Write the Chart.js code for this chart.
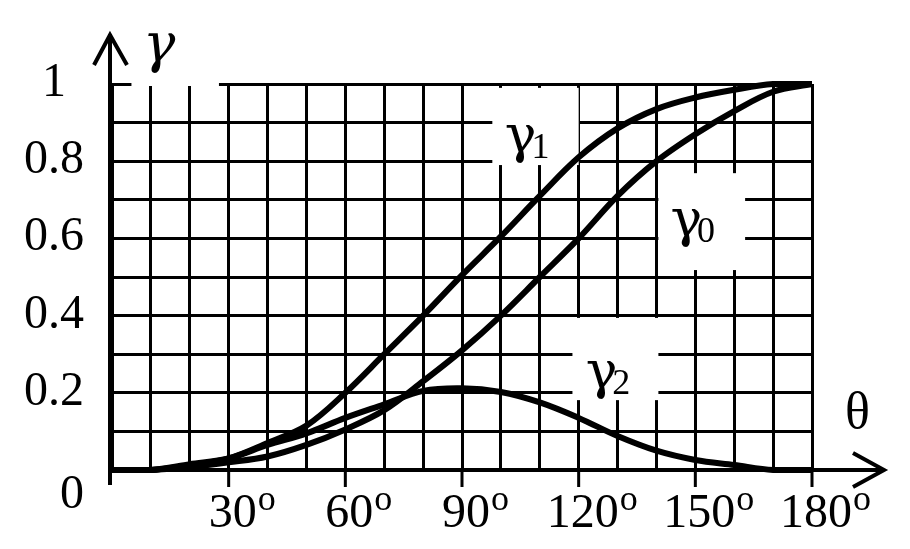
<!DOCTYPE html>
<html>
<head>
<meta charset="utf-8">
<script src="https://cdn.jsdelivr.net/npm/chart.js@4.4.1/dist/chart.umd.min.js"></script>
<style>
html, body { margin: 0; padding: 0; background: #fff; }
#wrap { width: 910px; height: 549px; }
</style>
</head>
<body>
<div id="wrap"><canvas id="chart" width="910" height="549"></canvas></div>
<script>
//
// data
//

// angle theta, degrees
const thetaDeg = [0, 10, 20, 30, 40, 50, 60, 70, 80, 90, 100, 110, 120, 130, 140, 150, 160, 170, 180];
// gamma curves
const gamma0 = [0, 0, 0.008, 0.02, 0.035, 0.065, 0.105, 0.155, 0.23, 0.31, 0.40, 0.50, 0.60, 0.71, 0.80, 0.87, 0.93, 0.98, 1.0];
const gamma1 = [0, 0, 0.012, 0.03, 0.07, 0.115, 0.20, 0.30, 0.40, 0.505, 0.605, 0.71, 0.81, 0.885, 0.935, 0.965, 0.985, 1.0, 1.0];
const gamma2 = [0, 0, 0.015, 0.03, 0.065, 0.095, 0.135, 0.17, 0.205, 0.212, 0.202, 0.175, 0.135, 0.088, 0.05, 0.026, 0.013, 0, 0];

// tick labels
const xTickValues = [30, 60, 90, 120, 150, 180];
const yTickValues = [0.2, 0.4, 0.6, 0.8, 1];
const yTickLabels = ['0.2', '0.4', '0.6', '0.8', '1'];
const curveSubs = ['0', '1', '2'];

const SERIF = '"Liberation Serif", "Times New Roman", serif';
const GREEK = '"DejaVu Serif", serif';

// build {x,y} points from the arrays
function pts(ys) {
    return thetaDeg.map((t, i) => ({x: t, y: ys[i]}));
}

// white patches behind the curve labels (data units: x0, x1, y0, y1)
const labelBoxes = [
    [97.8, 120.0, 0.790, 0.990],
    [140.5, 162.8, 0.518, 0.769],
    [118.4, 140.5, 0.181, 0.394]
];
// where each gamma label sits (left, baseline) in data units, same order as curveSubs
const labelSpots = [
    [143.6, 0.606],
    [101.0, 0.824],
    [121.8, 0.212]
];

const boxPlugin = {
    id: 'boxes',
    beforeDatasetsDraw(chart) {
        const c = chart.ctx, sx = chart.scales.x, sy = chart.scales.y;
        c.save();
        c.fillStyle = '#fff';
        labelBoxes.forEach(b => {
            const x0 = sx.getPixelForValue(b[0]), x1 = sx.getPixelForValue(b[1]);
            const y0 = sy.getPixelForValue(b[3]), y1 = sy.getPixelForValue(b[2]);
            c.fillRect(x0, y0, x1 - x0, y1 - y0);
        });
        // patch behind the axis name at top left
        const tx0 = sx.getPixelForValue(5), tx1 = sx.getPixelForValue(27.5);
        c.fillRect(tx0, 0, tx1 - tx0, sy.getPixelForValue(1) + 2);
        c.restore();
    }
};

const axesPlugin = {
    id: 'axes',
    afterDraw(chart) {
        const c = chart.ctx, sx = chart.scales.x, sy = chart.scales.y;
        const x0 = sx.getPixelForValue(0) - 2;
        const y0 = sy.getPixelForValue(0);
        c.save();
        c.strokeStyle = '#000';
        c.fillStyle = '#000';
        c.lineCap = 'butt';

        // axes with arrows
        c.lineWidth = 4;
        c.beginPath();
        c.moveTo(x0, y0 + 15);
        c.lineTo(x0, 34);
        c.moveTo(x0 - 16, 65);
        c.lineTo(x0, 35);
        c.lineTo(x0 + 17, 65);
        c.moveTo(x0 - 2, y0);
        c.lineTo(884, y0);
        c.moveTo(853, y0 - 17);
        c.lineTo(884, y0);
        c.lineTo(853, y0 + 17);
        c.stroke();

        // major ticks under the x axis
        c.lineWidth = 3;
        c.beginPath();
        xTickValues.forEach(v => {
            const px = sx.getPixelForValue(v);
            c.moveTo(px, y0);
            c.lineTo(px, y0 + 17);
        });
        c.stroke();

        // y tick labels
        c.font = '48px ' + SERIF;
        c.textAlign = 'center';
        c.textBaseline = 'alphabetic';
        yTickValues.forEach((v, i) => {
            c.fillText(yTickLabels[i], 54, sy.getPixelForValue(v) + 12);
        });
        c.fillText('0', 72, y0 + 38);

        // x tick labels with degree mark
        xTickValues.forEach(v => {
            const px = sx.getPixelForValue(v) + 4;
            c.font = '48px ' + SERIF;
            c.textAlign = 'center';
            const txt = String(v);
            const w = c.measureText(txt).width;
            c.fillText(txt, px, y0 + 57);
            c.font = '36px ' + SERIF;
            c.textAlign = 'left';
            c.fillText('o', px + w / 2 + 1, y0 + 40);
        });

        // axis names
        c.textAlign = 'left';
        c.font = 'italic 54px ' + GREEK;
        c.fillText('γ', 143, 62);
        c.font = '52px ' + SERIF;
        c.fillText('θ', 845, 428);

        // curve labels
        curveSubs.forEach((s, i) => {
            const lx = sx.getPixelForValue(labelSpots[i][0]);
            const ly = sy.getPixelForValue(labelSpots[i][1]);
            c.font = '53px ' + GREEK;
            const gw = c.measureText('γ').width;
            c.fillText('γ', lx, ly);
            c.font = '36px ' + SERIF;
            c.fillText(s, lx + gw - 5, ly + 6);
        });
        c.restore();
    }
};

const lineStyle = {
    borderColor: '#000',
    borderWidth: 6,
    pointRadius: 0,
    fill: false,
    tension: 0.35,
    clip: false
};

new Chart(document.getElementById('chart'), {
    type: 'line',
    data: {
        datasets: [
            Object.assign({label: 'γ0', data: pts(gamma0)}, lineStyle),
            Object.assign({label: 'γ1', data: pts(gamma1)}, lineStyle),
            Object.assign({label: 'γ2', data: pts(gamma2)}, lineStyle)
        ]
    },
    options: {
        responsive: false,
        animation: false,
        layout: {
            padding: {left: 112, right: 98, top: 84, bottom: 79}
        },
        plugins: {
            legend: {display: false},
            tooltip: {enabled: false}
        },
        scales: {
            x: {
                type: 'linear',
                min: 0,
                max: 180,
                ticks: {stepSize: 10, display: false},
                grid: {color: '#000', lineWidth: 3, drawTicks: false},
                border: {display: false}
            },
            y: {
                min: 0,
                max: 1,
                ticks: {stepSize: 0.1, display: false},
                grid: {color: '#000', lineWidth: 3, drawTicks: false},
                border: {display: false}
            }
        }
    },
    plugins: [boxPlugin, axesPlugin]
});
</script>
</body>
</html>
